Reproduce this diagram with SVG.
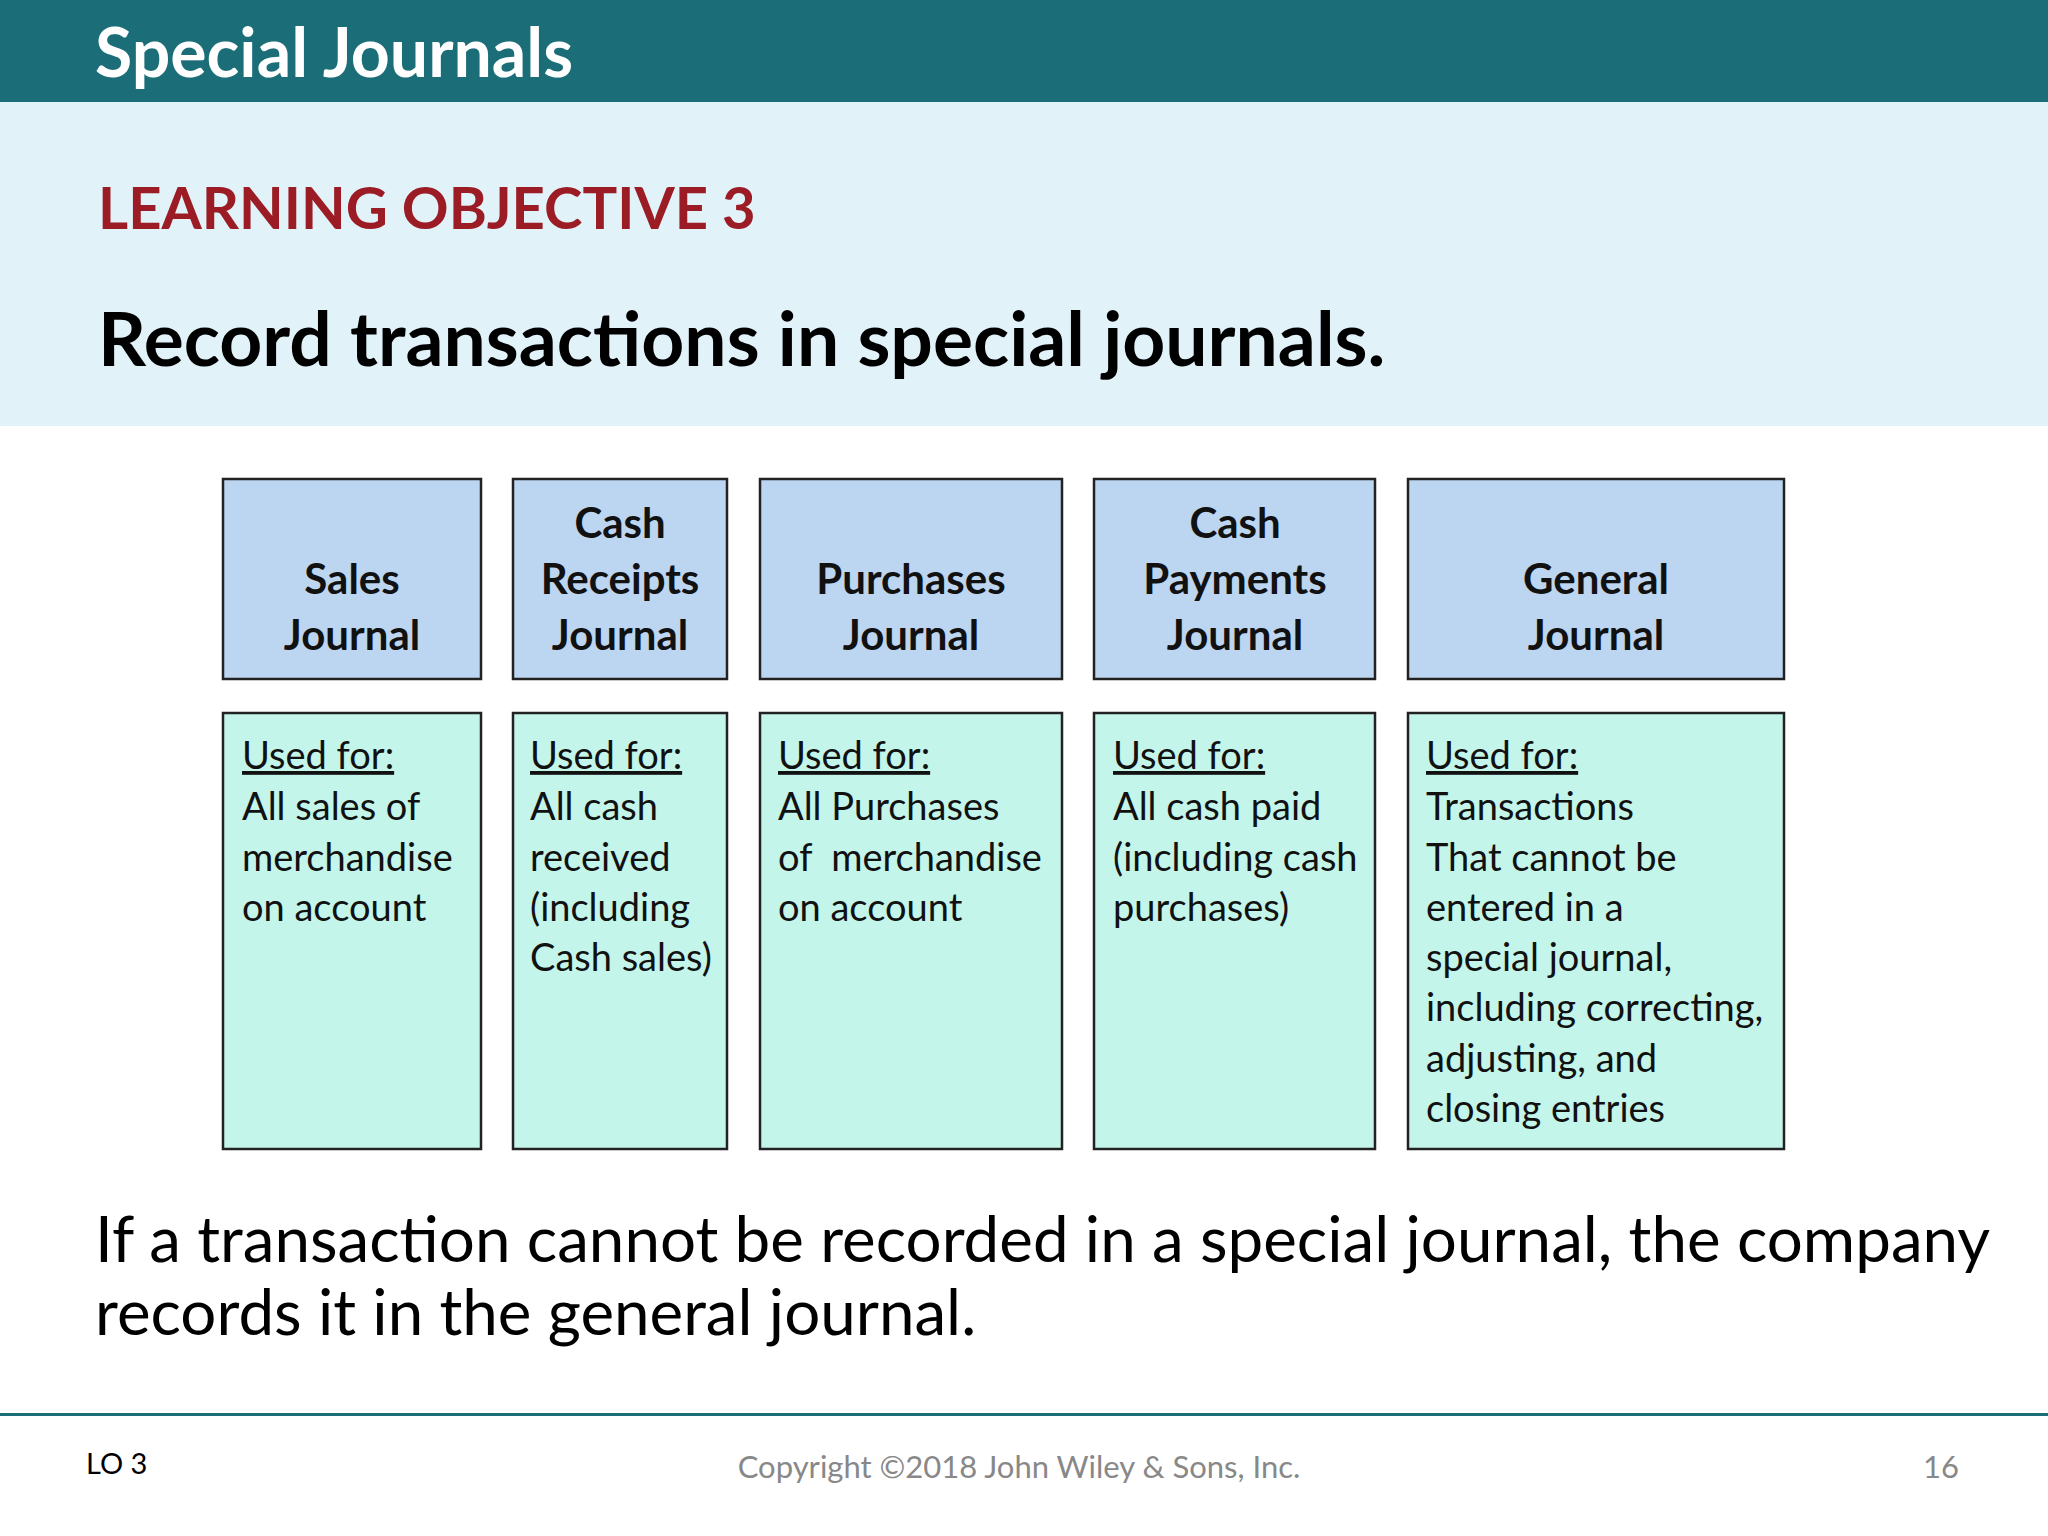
<svg xmlns="http://www.w3.org/2000/svg" width="2048" height="1536" viewBox="0 0 2048 1536">
<style>
text{font-family:Lato,"Open Sans","DejaVu Sans",sans-serif}
.h{fill:#bcd5f0;stroke:#222;stroke-width:2.5}
.b{fill:#c4f5ea;stroke:#222;stroke-width:2.5}
.ht{font-size:42px;font-weight:bold;text-anchor:middle;fill:#111}
.bt{font-size:38px;fill:#111}
</style>
<rect width="2048" height="102" fill="#1b6e78"/>
<rect y="102" width="2048" height="324" fill="#e1f2f9"/>
<text x="95" y="77" font-size="68" font-weight="bold" fill="#fff">Special Journals</text>
<text x="98" y="229" font-size="58" font-weight="bold" fill="#9b1c24">LEARNING OBJECTIVE 3</text>
<text x="98" y="366" font-size="75" font-weight="bold" fill="#000">Record transactions in special journals.</text>
<g id="sales">
<rect class="h" x="223" y="479" width="258" height="200"/>
<text class="ht"><tspan x="352" y="594">Sales</tspan><tspan x="352" y="650">Journal</tspan></text>
<rect class="b" x="223" y="713" width="258" height="436"/>
<text class="bt"><tspan x="242" y="769" text-decoration="underline">Used for:</tspan><tspan x="242" y="820">All sales of</tspan><tspan x="242" y="871">merchandise</tspan><tspan x="242" y="921">on account</tspan></text>
</g>
<g id="cashreceipts">
<rect class="h" x="513" y="479" width="214" height="200"/>
<text class="ht"><tspan x="620" y="538">Cash</tspan><tspan x="620" y="594">Receipts</tspan><tspan x="620" y="650">Journal</tspan></text>
<rect class="b" x="513" y="713" width="214" height="436"/>
<text class="bt"><tspan x="530" y="769" text-decoration="underline">Used for:</tspan><tspan x="530" y="820">All cash</tspan><tspan x="530" y="871">received</tspan><tspan x="530" y="921">(including</tspan><tspan x="530" y="971">Cash sales)</tspan></text>
</g>
<g id="purchases">
<rect class="h" x="760" y="479" width="302" height="200"/>
<text class="ht"><tspan x="911" y="594">Purchases</tspan><tspan x="911" y="650">Journal</tspan></text>
<rect class="b" x="760" y="713" width="302" height="436"/>
<text class="bt" xml:space="preserve"><tspan x="778" y="769" text-decoration="underline">Used for:</tspan><tspan x="778" y="820">All Purchases</tspan><tspan x="778" y="871">of  merchandise</tspan><tspan x="778" y="921">on account</tspan></text>
</g>
<g id="cashpayments">
<rect class="h" x="1094" y="479" width="281" height="200"/>
<text class="ht"><tspan x="1235" y="538">Cash</tspan><tspan x="1235" y="594">Payments</tspan><tspan x="1235" y="650">Journal</tspan></text>
<rect class="b" x="1094" y="713" width="281" height="436"/>
<text class="bt"><tspan x="1113" y="769" text-decoration="underline">Used for:</tspan><tspan x="1113" y="820">All cash paid</tspan><tspan x="1113" y="871">(including cash</tspan><tspan x="1113" y="921">purchases)</tspan></text>
</g>
<g id="general">
<rect class="h" x="1408" y="479" width="376" height="200"/>
<text class="ht"><tspan x="1596" y="594">General</tspan><tspan x="1596" y="650">Journal</tspan></text>
<rect class="b" x="1408" y="713" width="376" height="436"/>
<text class="bt"><tspan x="1426" y="769" text-decoration="underline">Used for:</tspan><tspan x="1426" y="820">Transactions</tspan><tspan x="1426" y="871">That cannot be</tspan><tspan x="1426" y="921">entered in a</tspan><tspan x="1426" y="971">special journal,</tspan><tspan x="1426" y="1021">including correcting,</tspan><tspan x="1426" y="1072">adjusting, and</tspan><tspan x="1426" y="1122">closing entries</tspan></text>
</g>
<g id="connectors"/>
<text font-size="63.7" fill="#000"><tspan x="95" y="1262">If a transaction cannot be recorded in a special journal, the company</tspan><tspan x="95" y="1335">records it in the general journal.</tspan></text>
<rect x="0" y="1413" width="2048" height="3" fill="#1b6e78"/>
<text x="86" y="1474" font-size="29" fill="#000">LO 3</text>
<text x="1019" y="1478" font-size="31" fill="#888" text-anchor="middle">Copyright ©2018 John Wiley &amp; Sons, Inc.</text>
<text x="1959" y="1478" font-size="31" fill="#888" text-anchor="end">16</text>
</svg>
